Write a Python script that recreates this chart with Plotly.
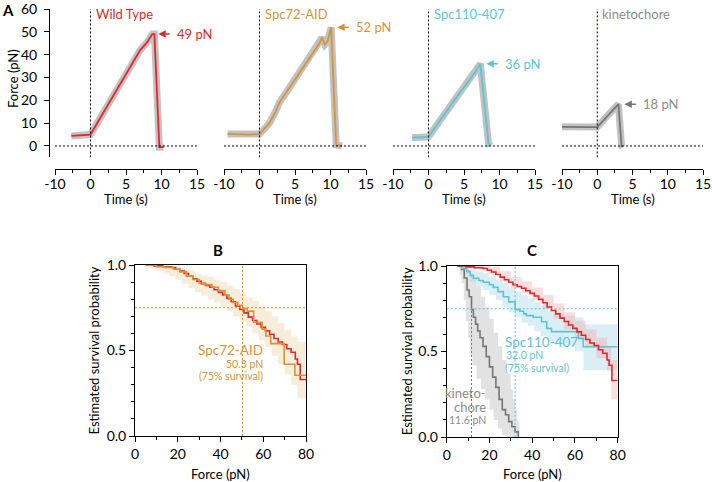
import plotly.graph_objects as go

FONT = "Lato"
W, H = 712, 482


def fx(p):
    return p / W


def fy(p):
    return 1 - p / H


RED = "#e1282d"
ORANGE = "#d4953a"
CYAN = "#5ec4d4"
GRAY_T = "#8c8c8c"
GRAY_L = "#767676"
RAW = "#c2c2c2"

# ---------------- Panel A: force traces ----------------
panel_names = ["Wild Type", "Spc72-AID", "Spc110-407", "kinetochore"]
panel_colors = [RED, ORANGE, CYAN, GRAY_T]
line_colors = [RED, ORANGE, CYAN, GRAY_L]

wt_time = [-2.7, -1.5, -0.5, 0.0, 3.5, 7.0, 8.0, 8.7, 9.0, 9.7, 10.3]
wt_force = [4.4, 4.6, 4.8, 5.0, 23.5, 42.0, 45.5, 49.0, 49.0, -0.5, -0.5]

spc72_time = [-4.5, -3.0, -1.5, 0.0, 0.7, 1.4, 2.1, 2.8, 4.0, 5.2, 6.3, 7.5, 8.45, 8.8, 9.2, 9.6, 10.1, 10.8, 11.6]
spc72_force = [5.3, 5.1, 5.0, 5.2, 7.5, 10.0, 14.0, 19.0, 24.5, 30.0, 35.5, 40.7, 45.0, 47.5, 44.5, 46.0, 52.0, 0.5, 0.0]

spc110_time = [-2.3, -1.0, 0.0, 2.0, 3.7, 6.5, 7.3, 8.45, 8.7]
spc110_force = [3.6, 3.8, 4.0, 12.8, 20.3, 32.0, 36.0, 1.2, 0.0]

kin_time = [-5.0, -3.0, -1.0, 0.0, 1.5, 3.0, 3.45, 3.6]
kin_force = [8.4, 8.5, 8.3, 8.3, 13.4, 18.3, 0.0, -0.5]

a_times = [wt_time, spc72_time, spc110_time, kin_time]
a_forces = [wt_force, spc72_force, spc110_force, kin_force]

a_tickvals = [-5, 0, 5, 10, 15]
a_ticktext = ["-10", "0", "5", "10", "15"]
a_yticks = [0, 10, 20, 30, 40, 50, 60]

# ---------------- Panels B / C: survival ----------------
wt_f = [5, 9, 13, 17, 19, 21, 23, 25, 27, 29, 31, 33, 35, 37, 39, 41, 43, 45, 47, 49,
        51, 53, 55, 57, 59, 61, 63, 65, 67, 69, 71, 73, 75, 76, 77.3, 80]
wt_p = [1.0, 0.995, 0.99, 0.985, 0.975, 0.965, 0.95, 0.935, 0.92, 0.905, 0.89, 0.88, 0.87,
        0.855, 0.84, 0.825, 0.805, 0.785, 0.76, 0.74, 0.72, 0.695, 0.675, 0.655, 0.635,
        0.615, 0.595, 0.57, 0.55, 0.535, 0.51, 0.49, 0.45, 0.42, 0.33, 0.33]
wtband_f = [5, 10, 15, 20, 25, 30, 35, 40, 45, 50, 55, 60, 65, 70, 75, 77, 80]
wtband_lo = [0.995, 0.985, 0.975, 0.95, 0.91, 0.87, 0.84, 0.8, 0.75, 0.69, 0.63, 0.58, 0.52, 0.46, 0.39, 0.22, 0.22]
wtband_hi = [1.0, 1.0, 1.0, 0.995, 0.97, 0.935, 0.91, 0.875, 0.83, 0.78, 0.73, 0.68, 0.63, 0.58, 0.53, 0.45, 0.45]

spc72_f = [5, 10, 14, 18, 21, 24, 27, 30, 33, 36, 39, 42, 44, 46, 48, 50.3, 52.5, 55.5,
           59.5, 61.2, 63.5, 69.8, 74.8, 80]
spc72_p = [1.0, 0.99, 0.985, 0.975, 0.96, 0.935, 0.915, 0.895, 0.885, 0.87, 0.85, 0.825,
           0.8, 0.78, 0.765, 0.745, 0.73, 0.665, 0.625, 0.585, 0.54, 0.42, 0.355, 0.355]
spc72band_f = [5, 7, 10, 13, 16, 19, 22, 25, 28, 31, 34, 37, 40, 43, 46, 49, 52, 55, 58,
               61, 64, 67, 70, 73, 76, 80]
spc72band_lo = [0.99, 0.98, 0.965, 0.95, 0.935, 0.915, 0.89, 0.865, 0.84, 0.82, 0.8, 0.78,
                0.755, 0.73, 0.7, 0.67, 0.64, 0.6, 0.56, 0.52, 0.47, 0.42, 0.36, 0.3, 0.22, 0.18]
spc72band_hi = [1.0, 1.0, 1.0, 1.0, 0.995, 0.99, 0.98, 0.965, 0.95, 0.94, 0.93, 0.915, 0.9,
                0.88, 0.86, 0.84, 0.81, 0.79, 0.76, 0.73, 0.7, 0.66, 0.62, 0.58, 0.55, 0.55]
spc72_f75 = 50.3

spc110_f = [4.7, 7, 9.4, 11, 12.5, 15, 17.1, 20, 21.8, 24, 26.5, 29, 32.0, 34.3, 36,
            37.3, 40.5, 44.4, 46.8, 49, 61.6, 63.9, 80]
spc110_p = [1.0, 0.985, 0.967, 0.945, 0.928, 0.915, 0.905, 0.89, 0.875, 0.85, 0.82, 0.79,
            0.745, 0.735, 0.72, 0.71, 0.7, 0.674, 0.635, 0.616, 0.577, 0.528, 0.528]
spc110band_f = [5, 8, 11, 14, 17, 20, 23, 26, 29, 32, 35, 38, 41, 44, 47, 50, 55, 60, 64, 80]
spc110band_lo = [0.99, 0.95, 0.91, 0.88, 0.86, 0.83, 0.8, 0.76, 0.73, 0.7, 0.67, 0.65,
                 0.62, 0.59, 0.56, 0.54, 0.53, 0.5, 0.39, 0.39]
spc110band_hi = [1.0, 1.0, 0.99, 0.97, 0.96, 0.94, 0.92, 0.9, 0.87, 0.85, 0.83, 0.81,
                 0.79, 0.77, 0.74, 0.72, 0.71, 0.7, 0.66, 0.66]
spc110_f75 = 32.0

kin_f = [4.7, 7, 8.2, 9.5, 10.5, 11.6, 12.5, 13.5, 14.5, 15.6, 17, 18.5, 20, 21.5, 23,
         24.5, 26, 27.5, 29, 30.5, 32, 33.5]
kin_p = [1.0, 0.98, 0.93, 0.86, 0.82, 0.745, 0.7, 0.66, 0.62, 0.58, 0.53, 0.47, 0.41,
         0.35, 0.29, 0.22, 0.16, 0.13, 0.09, 0.06, 0.03, 0.0]
kinband_f = [5, 6, 7, 8, 9, 10, 11, 12, 14, 16, 18, 20, 22, 24, 26, 28, 30, 31, 32, 33, 34]
kinband_lo = [1.0, 0.95, 0.9, 0.8, 0.68, 0.58, 0.48, 0.42, 0.34, 0.28, 0.22, 0.16, 0.1,
              0.05, 0.01, 0.0, 0.0, 0.0, 0.0, 0.0, 0.0]
kinband_hi = [1.0, 1.0, 1.0, 1.0, 0.99, 0.98, 0.96, 0.93, 0.88, 0.82, 0.76, 0.69, 0.61,
              0.53, 0.45, 0.37, 0.28, 0.22, 0.16, 0.09, 0.02]
kin_f75 = 11.6

surv_level = 0.75

fig = go.Figure()

# ---------- Panel A traces ----------
a_xdom = [(55, 197), (224, 366), (393, 535), (562, 703)]
for i in range(4):
    xa = "x" if i == 0 else f"x{i+1}"
    ya = "y" if i == 0 else f"y{i+1}"
    fig.add_trace(go.Scatter(x=a_times[i], y=a_forces[i], mode="lines", xaxis=xa, yaxis=ya,
                             line=dict(color=RAW, width=7), showlegend=False, hoverinfo="skip"))
    fig.add_trace(go.Scatter(x=a_times[i], y=a_forces[i], mode="lines", xaxis=xa, yaxis=ya,
                             line=dict(color=line_colors[i], width=1.8), showlegend=False))


def band(fv, lo, hi, color, xa, ya):
    fig.add_trace(go.Scatter(x=fv, y=lo, mode="lines", line=dict(width=0, shape="hv"),
                             xaxis=xa, yaxis=ya, showlegend=False, hoverinfo="skip"))
    fig.add_trace(go.Scatter(x=fv, y=hi, mode="lines", line=dict(width=0, shape="hv"),
                             fill="tonexty", fillcolor=color,
                             xaxis=xa, yaxis=ya, showlegend=False, hoverinfo="skip"))


def km(fv, pv, color, xa, ya, width=1.6):
    fig.add_trace(go.Scatter(x=fv, y=pv, mode="lines", line=dict(color=color, width=width, shape="hv"),
                             xaxis=xa, yaxis=ya, showlegend=False))


# ---------- Panel B ----------
band(spc72band_f, spc72band_lo, spc72band_hi, "rgba(240,212,175,0.45)", "x5", "y5")
km(wt_f, wt_p, RED, "x5", "y5")
km(spc72_f, spc72_p, ORANGE, "x5", "y5")

# ---------- Panel C ----------
band(kinband_f, kinband_lo, kinband_hi, "rgba(190,190,190,0.45)", "x6", "y6")
band(spc110band_f, spc110band_lo, spc110band_hi, "rgba(160,215,230,0.40)", "x6", "y6")
band(wtband_f, wtband_lo, wtband_hi, "rgba(245,160,160,0.35)", "x6", "y6")
km(kin_f, kin_p, GRAY_L, "x6", "y6")
km(spc110_f, spc110_p, CYAN, "x6", "y6")
km(wt_f, wt_p, RED, "x6", "y6")

# ---------- Layout axes ----------
layout = dict(
    width=W, height=H, margin=dict(l=0, r=0, t=0, b=0, autoexpand=False),
    paper_bgcolor="white", plot_bgcolor="rgba(0,0,0,0)",
    font=dict(family=FONT, size=14, color="black"),
    showlegend=False,
)

a_ydom = [fy(157.4), fy(9)]
for i in range(4):
    xk = "xaxis" if i == 0 else f"xaxis{i+1}"
    yk = "yaxis" if i == 0 else f"yaxis{i+1}"
    xa = "x" if i == 0 else f"x{i+1}"
    layout[xk] = dict(domain=[fx(a_xdom[i][0]), fx(a_xdom[i][1])], range=[-5, 15],
                      anchor="free", position=fy(169), showline=True, linecolor="black",
                      linewidth=1, ticks="outside", ticklen=5, tickcolor="black",
                      tickmode="array", tickvals=a_tickvals, ticktext=a_ticktext,
                      minor=dict(ticks="outside", ticklen=3, tickmode="linear", tick0=-5, dtick=2.5,
                                 tickcolor="black"),
                      ticklabelstandoff=-3, ticklabeloverflow="allow",
                      showgrid=False, zeroline=False, automargin=False, tickfont=dict(size=14))
    if i == 0:
        layout[yk] = dict(domain=a_ydom, range=[-5, 60], anchor="free", position=fx(49),
                          showline=True, linecolor="black", linewidth=1, ticks="outside",
                          ticklen=5, tickcolor="black", tickvals=a_yticks,
                          ticklabelstandoff=4, ticklabeloverflow="allow", automargin=False,
                          showgrid=False, zeroline=False, tickfont=dict(size=14))
    else:
        layout[yk] = dict(domain=a_ydom, range=[-5, 60], anchor=xa, visible=False,
                          automargin=False)

surv_axes = {5: ((135, 306), (265, 436)), 6: ((446.7, 617.7), (266, 437))}
for k, ((x0, x1), (y0, y1)) in surv_axes.items():
    layout[f"xaxis{k}"] = dict(domain=[fx(x0), fx(x1)], range=[0, 80], anchor=f"y{k}",
                               showline=True, mirror=True, linecolor="black", linewidth=1,
                               ticks="outside", ticklen=5, tickcolor="black",
                               tickvals=[0, 20, 40, 60, 80], automargin=False,
                               ticklabeloverflow="allow",
                               minor=dict(ticks="outside", ticklen=3, tickmode="linear", tick0=0,
                                          dtick=10, tickcolor="black"),
                               showgrid=False, zeroline=False, tickfont=dict(size=14))
    layout[f"yaxis{k}"] = dict(domain=[fy(y1), fy(y0)], range=[0, 1], anchor=f"x{k}",
                               showline=True, mirror=True, linecolor="black", linewidth=1,
                               ticks="outside", ticklen=5, tickcolor="black",
                               tickvals=[0, 0.5, 1.0], tickformat=".1f", automargin=False,
                               ticklabeloverflow="allow",
                               minor=dict(ticks="outside", ticklen=3, tickmode="linear", tick0=0,
                                          dtick=0.1, tickcolor="black"),
                               showgrid=False, zeroline=False, tickfont=dict(size=14))

fig.update_layout(**layout)

# ---------- Shapes ----------
DOT = "2px,2px"
shapes = []
for i in range(4):
    xa = "x" if i == 0 else f"x{i+1}"
    ya = "y" if i == 0 else f"y{i+1}"
    shapes.append(dict(type="line", xref=xa, yref=ya, x0=-5, x1=15, y0=0, y1=0,
                       line=dict(color="black", width=1, dash=DOT)))
    shapes.append(dict(type="line", xref=xa, yref=ya, x0=0, x1=0, y0=-5, y1=60,
                       line=dict(color="black", width=1, dash=DOT)))

shapes.append(dict(type="line", xref="x5", yref="y5", x0=spc72_f75, x1=spc72_f75, y0=0, y1=1,
                   line=dict(color=ORANGE, width=1, dash=DOT)))
shapes.append(dict(type="line", xref="x5", yref="y5", x0=0, x1=80, y0=surv_level, y1=surv_level,
                   line=dict(color=ORANGE, width=1, dash=DOT)))
shapes.append(dict(type="line", xref="x6", yref="y6", x0=spc110_f75, x1=spc110_f75, y0=0, y1=1,
                   line=dict(color=CYAN, width=1, dash=DOT)))
shapes.append(dict(type="line", xref="x6", yref="y6", x0=0, x1=80, y0=surv_level, y1=surv_level,
                   line=dict(color=CYAN, width=1, dash=DOT)))
shapes.append(dict(type="line", xref="x6", yref="y6", x0=kin_f75, x1=kin_f75, y0=0, y1=surv_level,
                   line=dict(color=GRAY_L, width=1, dash=DOT)))
fig.update_layout(shapes=shapes)

# ---------- Annotations ----------
ann = []


def txt(text, x, y, size=13, color="black", xanchor="center", yanchor="middle", xref="paper",
        yref="paper", textangle=0, xshift=0, bold=False):
    if bold:
        text = f"<b>{text}</b>"
    ann.append(dict(text=text, x=x, y=y, xref=xref, yref=yref, showarrow=False,
                    font=dict(family=FONT, size=size, color=color), xanchor=xanchor,
                    yanchor=yanchor, textangle=textangle, xshift=xshift))


txt("A", fx(0), fy(10), size=15, xanchor="left", bold=True)
txt("Force (pN)", fx(13), fy(79), size=13, textangle=-90)

for i in range(4):
    xa = "x" if i == 0 else f"x{i+1}"
    ya = "y" if i == 0 else f"y{i+1}"
    txt(panel_names[i], 0, fy(14), size=13, color=panel_colors[i], xanchor="left",
        xref=xa, xshift=3)
    forces = a_forces[i]
    k = forces.index(max(forces))
    tpk, fpk = a_times[i][k], forces[k]
    ann.append(dict(x=tpk, y=fpk, xref=xa, yref=ya, text="", showarrow=True, arrowhead=2,
                    arrowsize=1, arrowwidth=1.5, arrowcolor=line_colors[i], ax=13, ay=0,
                    xshift=6))
    txt(f"{fpk:.0f} pN", tpk, fpk, size=13, color=panel_colors[i], xanchor="left",
        xref=xa, yref=ya, xshift=23)
    cx = (a_xdom[i][0] + a_xdom[i][1]) / 2
    txt("Time (s)", fx(cx), fy(199), size=13)

# B
txt("B", fx(217.7), fy(250), size=15, bold=True)
txt("Estimated survival probability", fx(93), fy(350.5), size=13, textangle=-90)
txt("Force (pN)", fx(220.5), fy(474), size=13)
txt("Spc72-AID", 61.0, 0.503, size=13.5, color=ORANGE, xanchor="right", xref="x5", yref="y5")
txt(f"{spc72_f75:.1f} pN", 61.0, 0.423, size=10.5, color=ORANGE, xanchor="right", xref="x5", yref="y5")
txt("(75% survival)", 61.0, 0.351, size=10.5, color=ORANGE, xanchor="right", xref="x5", yref="y5")

# C
txt("C", fx(532), fy(250), size=15, bold=True)
txt("Estimated survival probability", fx(406.7), fy(351.5), size=13, textangle=-90)
txt("Force (pN)", fx(532), fy(474), size=13)
txt("Spc110-407", 26.5, 0.557, size=13.5, color=CYAN, xanchor="left", xref="x6", yref="y6")
txt(f"{spc110_f75:.1f} pN", 26.7, 0.48, size=10.5, color=CYAN, xanchor="left", xref="x6", yref="y6")
txt("(75% survival)", 26.5, 0.403, size=10.5, color=CYAN, xanchor="left", xref="x6", yref="y6")
txt("kineto-", 19.5, 0.257, size=13, color=GRAY_T, xanchor="right", xref="x6", yref="y6")
txt("chore", 19.5, 0.177, size=13, color=GRAY_T, xanchor="right", xref="x6", yref="y6")
txt(f"{kin_f75:.1f} pN", 19.5, 0.10, size=10.5, color=GRAY_T, xanchor="right", xref="x6", yref="y6")

fig.update_layout(annotations=ann)

fig.write_html("out.html", config={"displayModeBar": False},
               post_script="document.body.style.margin='0px';")
